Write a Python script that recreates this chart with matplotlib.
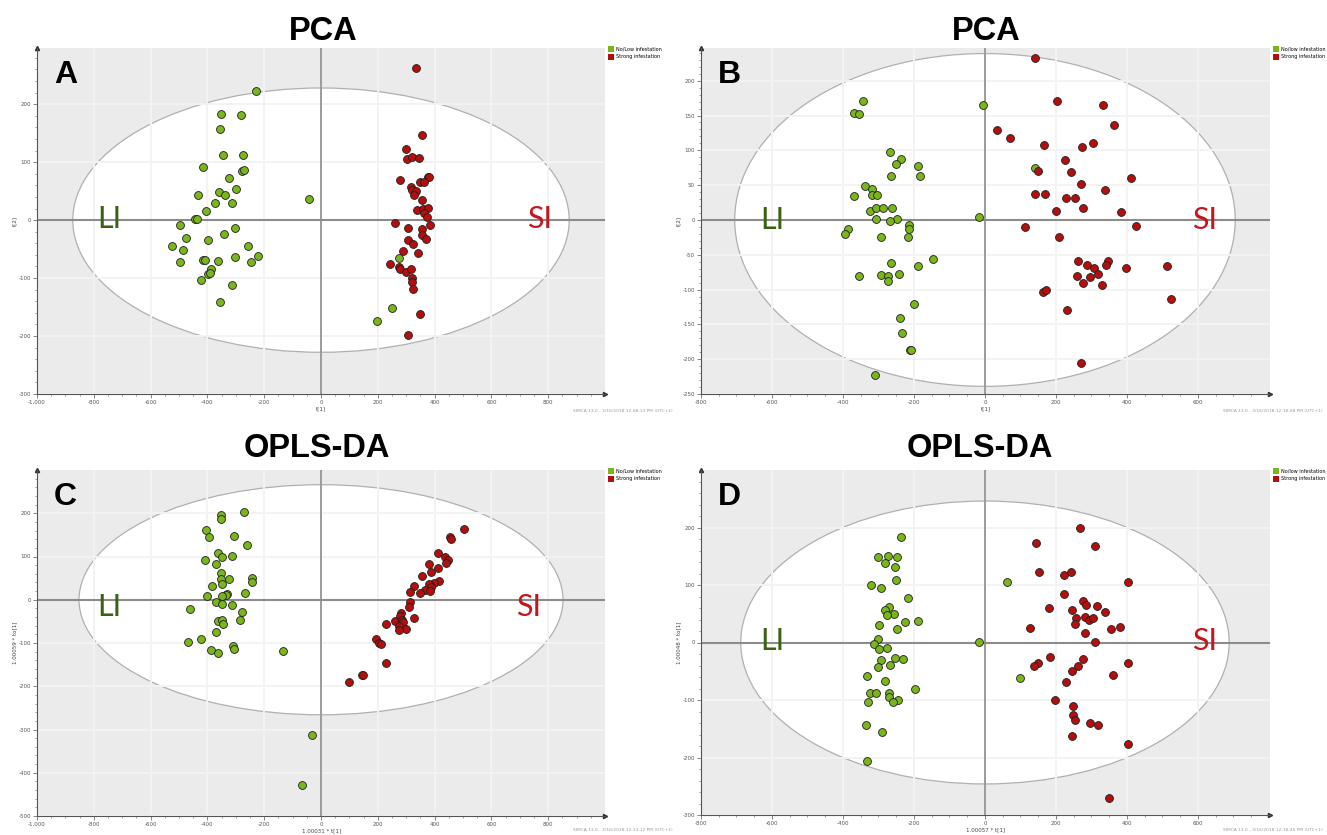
import numpy as np
import matplotlib
matplotlib.use("Agg")
import matplotlib.pyplot as plt
import matplotlib.patches as patches
from matplotlib.ticker import MultipleLocator, FuncFormatter

a_low_x = [-230, -353, -283, -354, -345, -276, -416, -277, -270, -324, -433, -359, -338, -299,
           -373, -314, -404, -443, -437, -44, -498, -302, -477, -397, -341, -524, -487, -258,
           -496, -415, -407, -363, -302, -221, -247, -388, -399, -391, -421, -314, -354, 273,
           250, 197]
a_low_y = [223, 183, 182, 157, 113, 112, 91, 85, 87, 73, 44, 48, 44, 54,
           29, 29, 15, 2, 2, 37, -9, -13, -31, -34, -24, -45, -51, -45,
           -73, -69, -68, -70, -64, -62, -73, -85, -93, -92, -104, -112, -142, -66,
           -152, -174]
a_high_x = [335, 354, 301, 302, 321, 344, 279, 378, 379, 347, 361, 316, 321, 333, 326, 354,
            338, 360, 378, 363, 372, 262, 307, 384, 356, 357, 369, 307, 324, 287, 341, 243,
            274, 277, 298, 316, 320, 319, 323, 350, 307]
a_high_y = [262, 147, 122, 105, 109, 108, 70, 75, 74, 65, 65, 58, 52, 51, 44, 34,
            17, 20, 21, 12, 5, -5, -14, -8, -16, -26, -33, -35, -42, -54, -57, -76,
            -81, -85, -89, -85, -99, -106, -119, -162, -199]

b_low_x = [-344, -370, -354, -5, -267, -237, -251, -189, -264, -182, -338, -370, -318, -318,
           -305, -323, -306, -287, -262, -308, -248, -268, -18, -213, -214, -386, -393, -292,
           -217, -145, -264, -188, -354, -293, -273, -272, -242, -199, -240, -233, -212, -207,
           -311, 140]
b_low_y = [171, 153, 152, 165, 98, 88, 81, 78, 63, 63, 49, 35, 44, 36,
           36, 13, 17, 17, 17, 2, 2, -1, 4, -7, -13, -13, -20, -25,
           -25, -56, -62, -66, -80, -79, -81, -87, -77, -121, -141, -162, -187, -187,
           -223, 74]
b_high_x = [140, 204, 332, 363, 33, 71, 165, 274, 305, 226, 148, 243, 410, 271, 338, 142,
            169, 229, 254, 275, 199, 383, 112, 425, 208, 263, 288, 308, 348, 340, 396, 514,
            260, 296, 319, 276, 330, 163, 173, 232, 523, 271]
b_high_y = [232, 171, 165, 136, 129, 118, 108, 105, 111, 86, 70, 69, 60, 52, 43, 37,
            37, 31, 31, 17, 13, 12, -10, -8, -25, -59, -64, -69, -59, -64, -69, -66,
            -80, -82, -78, -90, -94, -103, -100, -130, -114, -205]

c_low_x = [-270, -353, -351, -404, -393, -307, -261, -361, -350, -314, -409, -370, -351, -353,
           -323, -244, -243, -347, -384, -267, -332, -336, -350, -403, -369, -348, -313, -462,
           -279, -361, -347, -344, -284, -370, -421, -470, -310, -307, -387, -361, -133, -31,
           -67, 144]
c_low_y = [202, 197, 186, 161, 144, 147, 126, 109, 98, 101, 93, 83, 62, 48,
           49, 50, 42, 36, 32, 15, 13, 12, 8, 9, -6, -10, -12, -22,
           -29, -48, -46, -56, -47, -74, -91, -97, -108, -115, -116, -124, -119, -312,
           -429, -174]
c_high_x = [502, 453, 458, 413, 436, 446, 439, 412, 381, 388, 356, 416, 399, 381, 388, 326,
            367, 385, 348, 314, 314, 310, 283, 279, 329, 261, 284, 289, 230, 274, 301, 276,
            194, 203, 213, 230, 147, 99]
c_high_y = [164, 146, 140, 107, 99, 91, 84, 73, 82, 64, 55, 44, 39, 36, 29, 32,
            22, 20, 16, 17, -5, -16, -30, -37, -43, -49, -46, -52, -57, -60, -67, -71,
            -91, -99, -102, -147, -174, -191]

d_low_x = [-236, -301, -273, -249, -281, -254, -252, -321, -293, -218, -270, -282, -257, -275,
           -226, -189, -299, -249, -302, -314, -299, -275, -17, -254, -230, -294, -267, -301,
           -332, -281, -196, -323, -306, -271, -271, -246, -258, -329, -336, -289, -331, 63,
           100]
d_low_y = [183, 148, 151, 149, 138, 132, 108, 100, 94, 78, 61, 57, 50, 48,
           35, 37, 30, 23, 6, -3, -12, -10, 1, -27, -28, -31, -39, -42,
           -58, -67, -80, -87, -88, -87, -95, -100, -104, -103, -144, -155, -206, 106,
           -61]
d_high_x = [268, 143, 311, 151, 224, 243, 402, 223, 275, 285, 317, 180, 245, 339, 256, 281,
            292, 305, 254, 127, 354, 381, 282, 310, 183, 277, 149, 137, 263, 244, 402, 360,
            229, 198, 248, 249, 255, 295, 319, 244, 404, 350]
d_high_y = [199, 173, 167, 122, 117, 122, 106, 85, 73, 66, 64, 60, 56, 53, 42, 44,
            39, 43, 32, 26, 23, 27, 16, 1, -25, -29, -35, -40, -40, -50, -35, -57,
            -68, -100, -111, -126, -135, -140, -143, -162, -176, -270]

# Tick degli assi
xticks_wide = [-1000, -800, -600, -400, -200, 0, 200, 400, 600, 800]
xticks_narrow = [-800, -600, -400, -200, 0, 200, 400, 600]
yticks_a = [-300, -200, -100, 0, 100, 200]
yticks_b = [-250, -200, -150, -100, -50, 0, 50, 100, 150, 200]
yticks_c = [-500, -400, -300, -200, -100, 0, 100, 200]
yticks_d = [-300, -200, -100, 0, 100, 200]

GREEN = "#7bb51c"
RED = "#b40e0e"
W, H = 1327, 835


def px_rect(left, top, right, bottom):
    """Rettangolo in pixel -> coordinate figura."""
    return [left / W, 1 - bottom / H, (right - left) / W, (bottom - top) / H]


def draw_panel(fig, rect, letter, low, high, xlim, ylim, xticks, yticks, yminor,
               ell, xlabel, ylabel, low_label, label_y=0, li_x=-744, si_x=770):
    ax = fig.add_axes(rect)
    ax.set_facecolor("#ebebeb")
    ax.set_xlim(xlim)
    ax.set_ylim(ylim)

    # ellisse di Hotelling T2
    e = patches.Ellipse((0, 0), 2 * ell[0], 2 * ell[1], facecolor="white",
                        edgecolor="#b0b0b0", lw=0.9, zorder=1)
    ax.add_patch(e)

    ax.set_xticks(xticks)
    ax.set_yticks(yticks)
    ax.xaxis.set_minor_locator(MultipleLocator(50))
    ax.yaxis.set_minor_locator(MultipleLocator(yminor))
    ax.xaxis.set_major_formatter(FuncFormatter(lambda v, p: f"{v:,.0f}"))
    ax.yaxis.set_major_formatter(FuncFormatter(lambda v, p: f"{v:,.0f}"))
    ax.grid(True, which="major", color="#f3f3f3", lw=1.4)

    ax.axhline(0, color="#8c8c8c", lw=1.5, zorder=2)
    ax.axvline(0, color="#8c8c8c", lw=1.2, zorder=2)

    ax.scatter(low[0], low[1], s=32, c=GREEN, edgecolors="#1e1e1e", linewidths=0.6, zorder=3)
    ax.scatter(high[0], high[1], s=32, c=RED, edgecolors="#1e1e1e", linewidths=0.6, zorder=3)

    for side in ["top", "right"]:
        ax.spines[side].set_visible(False)
    for side in ["left", "bottom"]:
        ax.spines[side].set_color("#555555")
        ax.spines[side].set_linewidth(0.8)
    ax.plot([0], [1], marker="^", ms=3, color="#333333", transform=ax.transAxes, clip_on=False)
    ax.plot([1], [0], marker=">", ms=3, color="#333333", transform=ax.transAxes, clip_on=False)

    ax.tick_params(which="major", labelsize=4, colors="#555555", length=3, width=0.5, pad=1.5)
    ax.tick_params(which="minor", colors="#555555", length=1.5, width=0.4)
    ax.set_xlabel(xlabel, fontsize=4, color="#444444", labelpad=1)
    ax.set_ylabel(ylabel, fontsize=4, color="#444444", labelpad=1)

    ax.text(0.03, 0.965, letter, transform=ax.transAxes, ha="left", va="top",
            fontsize=23, fontweight="bold", family="Liberation Sans")
    ax.text(li_x, label_y, "LI", ha="center", va="center", fontsize=22,
            family="Lato", color="#3d6114")
    ax.text(si_x, label_y, "SI", ha="center", va="center", fontsize=22,
            family="Lato", color="#c4161c")

    handles = [patches.Patch(facecolor=GREEN, edgecolor="none", label=low_label),
               patches.Patch(facecolor=RED, edgecolor="none", label="Strong infestation")]
    ax.legend(handles=handles, loc="upper left", bbox_to_anchor=(1.002, 1.01), fontsize=3.5,
              frameon=False, handlelength=1.3, handleheight=1.4, handletextpad=0.3,
              borderaxespad=0, labelspacing=0.4)
    return ax


fig = plt.figure(figsize=(W / 100, H / 100), dpi=100)

draw_panel(fig, px_rect(37, 48, 605, 394), "A", (a_low_x, a_low_y), (a_high_x, a_high_y),
           (-1000, 1000), (-300, 297), xticks_wide, yticks_a, 20, (874, 228),
           "t[1]", "t[2]", "No/Low infestation", label_y=2, li_x=-744, si_x=770)
draw_panel(fig, px_rect(701, 48, 1270, 394), "B", (b_low_x, b_low_y), (b_high_x, b_high_y),
           (-800, 803), (-250, 247), xticks_narrow, yticks_b, 10, (705, 239),
           "t[1]", "t[2]", "No/low infestation", label_y=0, li_x=-598, si_x=619)
draw_panel(fig, px_rect(37, 470, 605, 816), "C", (c_low_x, c_low_y), (c_high_x, c_high_y),
           (-1000, 1000), (-500, 300), xticks_wide, yticks_c, 20, (852, 266),
           "1.00031 * t[1]", "1.00059 * to[1]", "No/Low infestation", label_y=-17,
           li_x=-744, si_x=730)
draw_panel(fig, px_rect(701, 470, 1270, 815), "D", (d_low_x, d_low_y), (d_high_x, d_high_y),
           (-800, 803), (-300, 300), xticks_narrow, yticks_d, 20, (688, 246),
           "1.00057 * t[1]", "1.00048 * to[1]", "No/low infestation", label_y=2,
           li_x=-598, si_x=619)

# titoli
title_kw = dict(ha="center", va="baseline", fontsize=23.5, fontweight="bold",
                family="Liberation Sans")
fig.text(323 / W, 1 - 40 / H, "PCA", **title_kw)
fig.text(986 / W, 1 - 40 / H, "PCA", **title_kw)
fig.text(317 / W, 1 - 457 / H, "OPLS-DA", **title_kw)
fig.text(980 / W, 1 - 457 / H, "OPLS-DA", **title_kw)

# piè di pagina SIMCA
foot_kw = dict(fontsize=3.2, color="#9a9a9a", va="center")
fig.text(573 / W, 1 - 411 / H, "SIMCA 13.0 - 3/16/2018 12:08:13 PM (UTC+1)", ha="left", **foot_kw)
fig.text(1323 / W, 1 - 411 / H, "SIMCA 13.0 - 3/16/2018 12:18:08 PM (UTC+1)", ha="right", **foot_kw)
fig.text(573 / W, 1 - 830 / H, "SIMCA 13.0 - 3/16/2018 12:13:12 PM (UTC+1)", ha="left", **foot_kw)
fig.text(1323 / W, 1 - 830 / H, "SIMCA 13.0 - 3/16/2018 12:18:45 PM (UTC+1)", ha="right", **foot_kw)

fig.savefig("out.png", dpi=100)
